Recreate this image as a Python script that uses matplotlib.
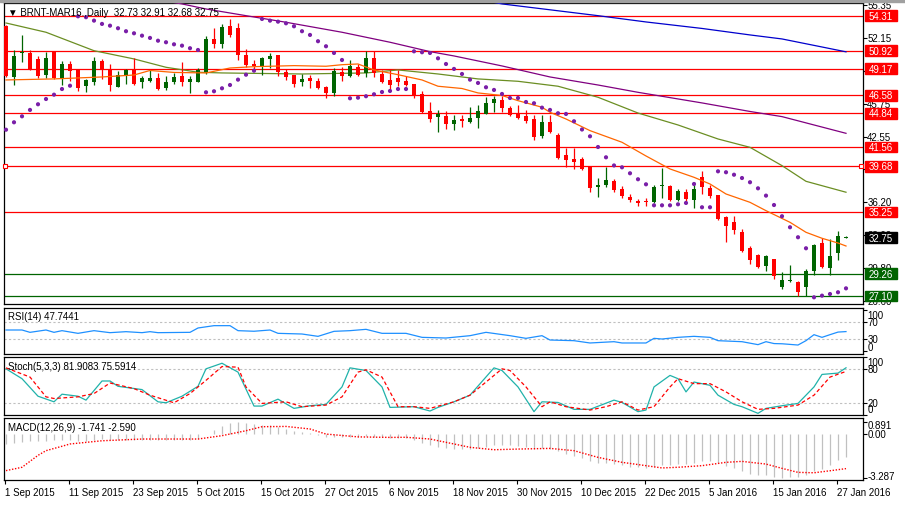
import matplotlib
matplotlib.use("Agg")
import matplotlib.pyplot as plt
from matplotlib.patches import Rectangle

plt.rcParams['font.family'] = ['Liberation Sans', 'DejaVu Sans']
plt.rcParams['font.size'] = 7

# daily bars, 1 Sep 2015 .. 28 Jan 2016
opens = [53.31, 48.39, 50.69, 50.69, 50.11, 48.55, 50.76, 48.26, 49.62, 49.07,
         47.51, 47.90, 49.88, 49.07, 47.42, 48.43, 49.07, 47.85, 47.97, 48.26,
         47.26, 47.85, 48.49, 47.90, 47.90, 48.82, 52.05, 51.56, 53.34, 53.12,
         50.50, 49.62, 49.46, 50.11, 50.50, 48.82, 48.55, 47.90, 48.26, 48.00,
         47.42, 46.81, 48.87, 48.49, 49.30, 48.75, 50.20, 48.65, 48.07, 48.26,
         48.00, 47.68, 46.71, 45.03, 44.50, 44.60, 43.80, 44.28, 43.96, 44.38,
         44.77, 45.84, 46.13, 45.35, 44.87, 44.54, 44.28, 42.66, 44.02, 42.73,
         40.79, 40.40, 40.40, 39.59, 37.71, 37.87, 38.29, 37.48, 36.68, 36.35,
         36.32, 36.25, 37.78, 37.80, 36.45, 37.22, 36.45, 38.62, 37.58, 36.93,
         34.80, 34.31, 33.28, 31.76, 31.08, 29.98, 30.69, 27.99, 28.55, 28.43,
         27.94, 29.55, 32.24, 29.81, 31.27, 32.73]
highs = [53.41, 50.98, 52.44, 50.98, 50.37, 50.76, 50.86, 49.88, 49.88, 49.14,
         48.17, 50.27, 50.11, 49.62, 48.97, 49.14, 50.17, 48.49, 49.04, 48.75,
         48.43, 48.75, 49.85, 48.43, 49.20, 52.31, 53.09, 53.50, 53.99, 53.60,
         51.08, 50.01, 50.27, 50.69, 50.50, 49.14, 48.55, 48.65, 48.55, 48.26,
         47.51, 49.23, 49.36, 50.01, 49.62, 50.85, 50.85, 49.07, 49.07, 49.07,
         48.43, 47.68, 46.97, 45.90, 45.19, 45.03, 44.70, 44.70, 45.42, 45.64,
         46.39, 46.54, 46.54, 45.57, 45.67, 45.16, 44.70, 44.70, 44.70, 42.90,
         41.44, 41.44, 40.56, 39.65, 38.55, 39.59, 38.46, 37.77, 37.00, 36.51,
         36.61, 37.83, 39.52, 37.87, 37.48, 37.48, 38.13, 39.26, 37.90, 36.93,
         34.89, 34.89, 33.60, 31.95, 31.17, 31.08, 30.69, 29.40, 30.11, 28.58,
         29.72, 32.15, 32.70, 32.63, 33.44, 32.91]
lows = [48.36, 47.61, 49.85, 49.04, 48.26, 48.26, 48.20, 47.58, 48.00, 47.03,
        46.93, 47.58, 48.17, 47.03, 47.36, 47.68, 47.61, 47.26, 47.90, 47.13,
        47.13, 47.68, 47.46, 46.81, 47.85, 48.65, 51.15, 51.15, 52.21, 50.04,
        49.30, 48.97, 48.55, 49.23, 48.49, 48.07, 47.42, 47.51, 47.29, 47.19,
        46.29, 46.49, 48.00, 48.39, 48.43, 48.39, 48.39, 47.78, 47.10, 47.51,
        47.46, 46.32, 44.87, 44.02, 43.05, 43.31, 43.24, 43.53, 43.90, 43.41,
        44.77, 44.96, 44.96, 44.60, 44.28, 43.90, 42.27, 42.40, 42.92, 40.40,
        39.59, 39.43, 39.33, 37.22, 36.68, 37.65, 37.19, 36.58, 36.25, 35.86,
        35.86, 36.13, 36.61, 36.32, 36.32, 36.35, 35.64, 37.00, 36.58, 34.48,
        32.37, 33.09, 31.34, 30.20, 29.80, 29.55, 28.75, 27.77, 28.43, 27.07,
        27.12, 29.13, 29.78, 29.13, 30.62, 32.68]
closes = [48.46, 50.37, 50.79, 49.07, 48.49, 50.17, 48.23, 49.62, 48.97, 47.26,
          48.07, 49.88, 49.07, 47.58, 48.55, 49.07, 47.68, 48.26, 48.23, 47.19,
          47.90, 48.39, 47.90, 48.17, 49.07, 52.05, 51.56, 53.18, 52.47, 50.52,
          49.55, 49.40, 50.17, 50.37, 48.82, 48.33, 47.68, 48.17, 48.00, 47.29,
          46.81, 48.97, 48.43, 49.46, 48.55, 50.20, 48.75, 47.90, 47.58, 47.90,
          47.58, 46.49, 44.99, 44.28, 44.77, 43.80, 44.18, 44.12, 44.35, 45.03,
          45.84, 46.22, 45.35, 44.70, 44.38, 44.06, 42.50, 44.02, 43.05, 40.50,
          40.33, 40.14, 39.43, 37.55, 37.87, 38.39, 37.42, 36.78, 36.45, 36.10,
          36.25, 37.71, 37.84, 36.42, 37.32, 36.51, 37.48, 37.65, 36.83, 34.57,
          33.92, 33.53, 31.44, 30.62, 29.94, 31.01, 29.07, 28.65, 28.62, 27.46,
          29.55, 32.08, 29.88, 31.01, 32.89, 32.75]

sar = [43.24, 43.96, 44.54, 45.16, 45.71, 46.22, 46.64, 47.19, 47.51,
       54.25, 54.16, 53.83, 53.51, 53.34, 53.09, 52.80, 52.60, 52.37, 52.15,
       51.88, 51.73, 51.53, 51.40, 51.15, 50.98,
       46.87, 46.97, 47.26, 47.58, 48.10, 48.58, 48.97,
       53.99, 53.83, 53.73, 53.57, 53.28, 52.80, 52.44, 51.83, 51.34, 50.69, 50.01,
       46.29, 46.35, 46.49, 46.68, 46.90, 47.00, 47.19, 47.19,
       50.85, 50.76, 50.69, 50.17, 49.62, 49.14, 48.65, 48.10, 47.78, 47.36,
       47.10, 46.71, 46.32, 46.32, 45.93, 45.81, 45.38, 45.16, 44.84, 44.77,
       44.06, 43.26, 42.60, 41.56, 40.56, 39.77, 39.59, 39.01, 38.43, 37.94,
       35.90, 35.90, 35.90, 36.00, 36.13, 37.97, 35.71, 35.71,
       39.20, 39.11, 38.87, 38.55, 38.14, 37.55, 36.84, 35.93, 34.84, 33.77,
       32.80, 31.73,
       26.97, 27.13, 27.29, 27.46, 27.84]

# moving averages, read at a few bars
ma_fast_idx = [0, 6, 12, 16, 18, 21, 25, 28, 31, 36, 40, 42, 44, 46, 49, 52, 54,
               57, 59, 62, 64, 67, 68, 70, 73, 77, 80, 83, 86, 88, 90, 93, 95,
               98, 100, 102, 104, 105]
ma_fast = [48.07, 48.17, 48.36, 48.55, 48.99, 48.80, 48.75, 49.23, 49.36, 49.46,
           49.40, 49.55, 49.62, 49.04, 48.58, 48.07, 47.46, 47.24, 46.81, 46.56,
           46.06, 45.42, 44.93, 44.28, 43.15, 42.02, 40.69, 39.43, 38.62, 37.97,
           37.00, 36.19, 35.38, 34.25, 33.28, 32.70, 32.24, 31.95]
ma_mid_idx = [0, 5, 11, 16, 20, 24, 27, 37, 45, 49, 54, 59, 64, 69, 74, 79, 84,
              89, 93, 97, 100, 105]
ma_mid = [53.60, 52.70, 50.91, 50.11, 49.30, 48.82, 48.75, 48.65, 48.75, 49.04,
          48.65, 48.17, 47.94, 47.46, 46.39, 44.86, 43.70, 42.34, 41.53, 39.75,
          38.23, 37.17]
ma_slow_idx = [19, 22, 25, 30, 35, 42, 48, 53, 56, 62, 68, 74, 79, 87, 93, 97, 105]
ma_slow = [55.85, 55.45, 54.96, 54.31, 53.67, 52.70, 51.73, 50.82, 50.40, 49.43,
           48.36, 47.58, 46.87, 45.84, 45.01, 44.51, 42.89]
ma_long_idx = [61, 62, 74, 80, 87, 93, 97, 102, 105]
ma_long = [55.60, 55.45, 54.31, 53.70, 53.07, 52.44, 52.05, 51.27, 50.80]

red_levels = [54.31, 50.92, 49.17, 46.58, 44.84, 41.56, 39.68, 35.25]
green_levels = [29.26, 27.10]
last_price = 32.75
price_ticks = [55.35, 52.15, 48.95, 45.75, 42.55, 39.40, 36.20, 33.00, 29.80, 26.60]

rsi_idx = [0, 2, 3, 5, 6, 7, 9, 11, 13, 15, 17, 18, 19, 23, 24, 26, 28, 29, 31, 33,
           34, 37, 39, 41, 43, 45, 47, 50, 52, 55, 58, 60, 63, 65, 67, 68, 71, 73,
           76, 77, 80, 81, 82, 84, 86, 88, 89, 92, 94, 95, 96, 97, 99, 100, 101,
           102, 103, 104, 105]
rsi = [51.5, 51.5, 45.9, 51.5, 45.9, 49.9, 43.5, 49.9, 45.1, 47.5, 45.1, 47.5,
       45.1, 45.9, 56.3, 61.9, 61.9, 49.9, 48.5, 51.5, 43.5, 41.9, 36.3, 48.3,
       49.9, 53.1, 43.5, 43.5, 33.9, 32.3, 37.9, 45.9, 37.9, 31.5, 37.9, 27.5,
       25.9, 20.4, 23.5, 20.4, 20.4, 31.5, 29.9, 33.9, 36.3, 33.9, 25.9, 23.5,
       16.4, 23.5, 19.0, 18.5, 15.5, 26.0, 40.3, 33.9, 40.3, 46.5, 47.7]

stoch_k_idx = [0, 2, 4, 6, 7, 9, 10, 12, 13, 14, 17, 19, 20, 22, 24, 25, 27, 29,
               31, 32, 34, 36, 38, 40, 42, 43, 45, 47, 48, 51, 53, 54, 56, 58, 61,
               62, 64, 66, 67, 69, 71, 73, 76, 77, 79, 80, 81, 83, 84, 85, 86, 88,
               89, 91, 92, 94, 95, 97, 99, 101, 102, 104, 105]
stoch_k = [80.1, 63.0, 32.6, 22.9, 36.1, 32.6, 25.8, 59.0, 59.0, 49.8, 44.1, 22.9,
           21.2, 32.6, 49.8, 80.1, 89.8, 74.4, 15.5, 15.5, 27.5, 11.5, 16.1, 18.4,
           48.7, 81.8, 77.2, 48.7, 13.2, 14.4, 6.9, 13.2, 22.9, 34.4, 81.8, 77.2,
           48.7, 5.8, 22.9, 21.8, 9.8, 9.8, 25.8, 21.8, 5.8, 8.6, 48.7, 68.7, 63.0,
           40.1, 57.2, 51.5, 34.4, 18.4, 14.4, 2.9, 11.5, 16.1, 20.1, 48.7, 70.4,
           72.7, 81.9]
stoch_d_idx = [0, 3, 5, 6, 9, 11, 13, 16, 18, 21, 23, 25, 27, 29, 30, 32, 35, 37,
               40, 42, 44, 45, 47, 49, 51, 53, 56, 58, 60, 62, 63, 65, 67, 68, 70,
               73, 75, 77, 79, 81, 83, 84, 86, 88, 90, 92, 94, 96, 99, 101, 103, 105]
stoch_d = [81.8, 65.8, 31.5, 28.6, 31.5, 37.2, 55.5, 45.8, 34.4, 21.2, 37.2, 60.1,
           84.1, 83.0, 48.7, 20.1, 22.9, 14.4, 17.2, 31.5, 74.4, 78.4, 65.8, 14.4,
           14.4, 11.5, 22.9, 34.4, 57.2, 80.1, 77.2, 48.7, 14.4, 22.9, 14.4, 8.6,
           14.4, 22.9, 8.6, 14.4, 48.7, 63.0, 54.4, 54.4, 40.1, 22.9, 9.8, 11.5,
           17.2, 34.4, 65.8, 75.6]

macd = [-0.75, -0.70, -0.60, -0.55, -0.55, -0.50, -0.45, -0.42, -0.45,
        -0.50, -0.50, -0.42, -0.40, -0.45, -0.45, -0.42, -0.45, -0.45, -0.42,
        -0.45, -0.45, -0.42, -0.42, -0.42, -0.35,
        0.00, 0.30, 0.60, 0.85, 0.891, 0.82, 0.72, 0.68, 0.65, 0.50, 0.38, 0.22,
        0.12, 0.05,
        -0.05, -0.20, -0.22, -0.25, -0.25, -0.25, -0.18, -0.20, -0.25, -0.30,
        -0.30, -0.32,
        -0.45, -0.65, -0.85, -0.95, -1.05, -1.10, -1.12, -1.12, -1.08, -0.95,
        -0.82, -0.80, -0.85, -0.90, -0.95, -1.10, -1.05, -1.10,
        -1.30, -1.50, -1.65, -1.80, -2.00, -2.15, -2.20, -2.25, -2.35, -2.45,
        -2.50, -2.55, -2.45, -2.35, -2.35, -2.28, -2.25, -2.15, -2.00, -2.00,
        -2.20, -2.40, -2.55, -2.80, -3.00, -3.10, -3.10, -3.20, -3.287, -3.25,
        -3.25, -3.10, -2.75, -2.60, -2.35, -1.95, -1.741]
macd_sig_idx = [0, 2, 4, 5, 7, 8, 10, 12, 17, 24, 27, 30, 32, 35, 38, 40, 44, 48,
                50, 53, 56, 58, 61, 64, 68, 71, 74, 77, 80, 82, 84, 87, 90, 92, 95,
                97, 99, 101, 103, 105]
macd_sig = [-2.74, -2.49, -1.60, -1.25, -0.92, -0.75, -0.63, -0.51, -0.38, -0.38,
            -0.13, 0.24, 0.54, 0.56, 0.37, -0.01, -0.22, -0.26, -0.25, -0.38,
            -0.75, -1.00, -1.18, -1.13, -1.08, -1.25, -1.75, -2.12, -2.37, -2.54,
            -2.49, -2.37, -2.12, -2.05, -2.25, -2.57, -2.87, -2.90, -2.75, -2.59]

date_idx = [0, 8, 16, 24, 32, 40, 48, 56, 64, 72, 80, 88, 96, 104]
date_labels = ['1 Sep 2015', '11 Sep 2015', '23 Sep 2015', '5 Oct 2015',
               '15 Oct 2015', '27 Oct 2015', '6 Nov 2015', '18 Nov 2015',
               '30 Nov 2015', '10 Dec 2015', '22 Dec 2015', '5 Jan 2016',
               '15 Jan 2016', '27 Jan 2016']

RED = '#FF0000'
GREEN = '#006400'

W, H = 905, 506


def px_box(x0, y0, x1, y1):
    return [x0 / W, 1 - y1 / H, (x1 - x0) / W, (y1 - y0) / H]


fig = plt.figure(figsize=(W / 100, H / 100), dpi=100, facecolor='white')
fig.patches.append(Rectangle((0, 1 - 3 / H), 1, 3 / H, transform=fig.transFigure,
                             color='#A0A0A0', zorder=0))

ax = fig.add_axes(px_box(4, 4, 863, 305))
ax_rsi = fig.add_axes(px_box(4, 309, 863, 355))
ax_sto = fig.add_axes(px_box(4, 357.5, 863, 416))
ax_macd = fig.add_axes(px_box(4, 419, 863, 481))

for a in (ax, ax_rsi, ax_sto, ax_macd):
    a.set_xlim(-0.25, 107.125)
    a.set_xticks([])
    a.yaxis.tick_right()
    a.tick_params(axis='y', length=3, width=0.8, labelright=False, direction='out')
    for s in a.spines.values():
        s.set_linewidth(0.9)
        s.set_color('black')

# ---- main price panel
ax.set_ylim(26.32, 55.54)
n = len(opens)
xs = list(range(n))

for lv in red_levels:
    ax.axhline(lv, color=RED, lw=0.9, zorder=2)
for lv in green_levels:
    ax.axhline(lv, color=GREEN, lw=0.9, zorder=2)
ax.plot([-0.13, 106.9], [39.68, 39.68], 's', ms=3.5, mfc='white', mec=RED,
        mew=0.8, clip_on=False, zorder=3)

ax.plot(ma_long_idx, ma_long, color='#0000CD', lw=0.9, zorder=3)
ax.plot(ma_slow_idx, ma_slow, color='#800080', lw=0.9, zorder=3)
ax.plot(ma_mid_idx, ma_mid, color='#6B8E23', lw=0.9, zorder=3)
ax.plot(ma_fast_idx, ma_fast, color='#FF6600', lw=0.9, zorder=6)

cols = [GREEN if c >= o else RED for o, c in zip(opens, closes)]
ax.vlines(xs, lows, highs, colors=cols, lw=0.9, zorder=4)
bottoms = [min(o, c) for o, c in zip(opens, closes)]
heights = [max(abs(c - o), 0.1) for o, c in zip(opens, closes)]
ax.bar(xs, heights, bottom=bottoms, width=0.62, color=cols, lw=0, zorder=5)

ax.scatter(xs, sar, s=9, color='#7A1FA8', edgecolors='none', zorder=7)

ax.set_yticks(price_ticks)
tr = ax.get_yaxis_transform()
for t in price_ticks:
    ax.text(1.005, t, f'{t:.2f}', transform=tr, ha='left', va='center',
            fontsize=7, clip_on=False)

bw = 32 / 859
hh = 5.3 / 10.3


def price_box(level, color):
    ax.add_patch(Rectangle((1.0023, level - hh), bw, 2 * hh, transform=tr,
                           color=color, clip_on=False, zorder=20))
    ax.text(1.0023 + bw / 2, level, f'{level:.2f}', transform=tr, ha='center',
            va='center', color='white', fontsize=7, clip_on=False, zorder=21)


for lv in red_levels:
    price_box(lv, RED)
for lv in green_levels:
    price_box(lv, GREEN)
price_box(last_price, 'black')

fig.text(8 / W, 1 - 13 / H, '\u25BC BRNT-MAR16.,Daily  32.73 32.91 32.68 32.75',
         fontsize=7, va='center', ha='left')

# ---- RSI
ax_rsi.set_ylim(-6, 104.2)
for lv in (70, 30):
    ax_rsi.axhline(lv, color='#C0C0C0', lw=0.8, ls=(0, (2, 2)))
ax_rsi.plot(rsi_idx, rsi, color='#1E90FF', lw=0.9)
ax_rsi.set_yticks([100, 70, 30, 0])
tr_r = ax_rsi.get_yaxis_transform()
for val, pos in [('100', 88), ('70', 70), ('30', 30), ('0', 11.5)]:
    ax_rsi.text(1.005, pos, val, transform=tr_r, ha='left', va='center',
                fontsize=7, clip_on=False)
ax_rsi.text(4 / 859, 0.82, 'RSI(14) 47.7441', transform=ax_rsi.transAxes,
            fontsize=7, va='center')

# ---- Stochastic
ax_sto.set_ylim(1.2, 101.5)
for lv in (80, 20):
    ax_sto.axhline(lv, color='#C0C0C0', lw=0.8, ls=(0, (2, 2)))
ax_sto.plot(stoch_k_idx, stoch_k, color='#20B2AA', lw=0.9)
ax_sto.plot(stoch_d_idx, stoch_d, color=RED, lw=0.9, ls=(0, (3, 2)))
ax_sto.set_yticks([100, 80, 20, 0])
tr_s = ax_sto.get_yaxis_transform()
for val, pos in [('100', 91.6), ('80', 80), ('20', 20), ('0', 9.8)]:
    ax_sto.text(1.005, pos, val, transform=tr_s, ha='left', va='center',
                fontsize=7, clip_on=False)
ax_sto.text(4 / 859, 0.84, 'Stoch(5,3,3) 81.9083 75.5914', transform=ax_sto.transAxes,
            fontsize=7, va='center')

# ---- MACD
ax_macd.set_ylim(-3.44, 1.19)
ax_macd.vlines(xs, 0, macd, colors='#C0C0C0', lw=0.9)
ax_macd.plot(macd_sig_idx, macd_sig, color=RED, lw=1.0, ls=(0, (1, 1.2)))
ax_macd.set_yticks([0.891, 0.0, -3.287])
tr_m = ax_macd.get_yaxis_transform()
for val, pos in [('0.891', 0.66), ('0.00', 0.0), ('-3.287', -3.12)]:
    ax_macd.text(1.005, pos, val, transform=tr_m, ha='left', va='center',
                 fontsize=7, clip_on=False)
ax_macd.text(4 / 859, 0.86, 'MACD(12,26,9) -1.741 -2.590', transform=ax_macd.transAxes,
             fontsize=7, va='center')

ax_macd.set_xticks([i - 0.15 for i in date_idx])
ax_macd.tick_params(axis='x', length=3, width=0.8, labelbottom=False)
trx = ax_macd.get_xaxis_transform()
for i, lab in zip(date_idx, date_labels):
    ax_macd.text(i - 0.1, -12 / 62, lab, transform=trx, ha='left', va='center',
                 fontsize=7, clip_on=False)

fig.savefig('out.png', dpi=100, facecolor='white')
